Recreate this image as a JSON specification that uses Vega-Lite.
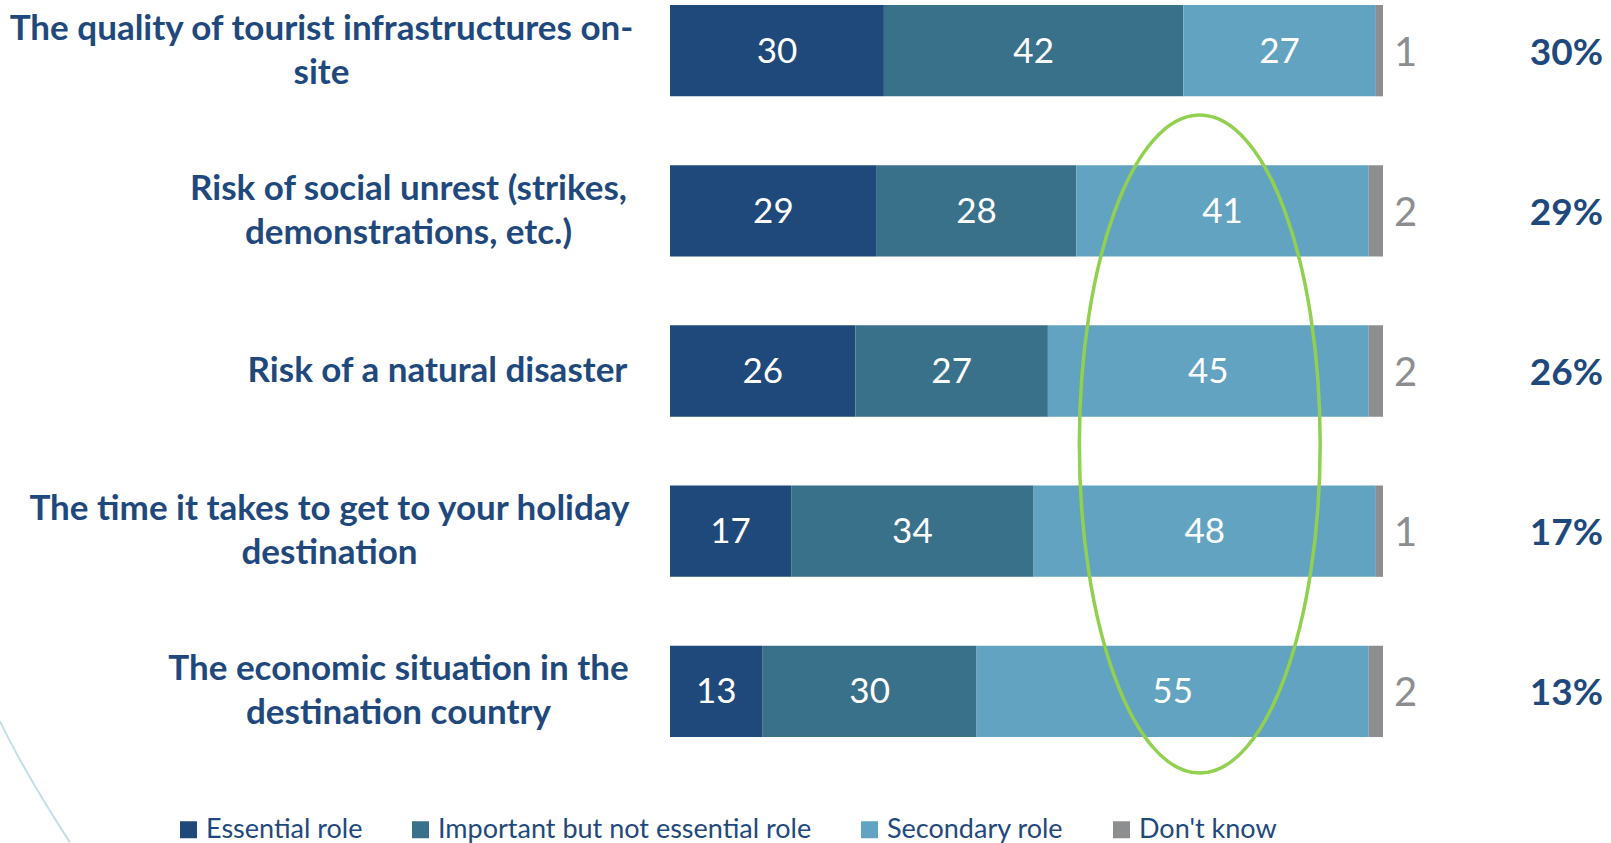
{
  "$schema": "https://vega.github.io/schema/vega-lite/v6.json",
  "width": 713,
  "height": 732,
  "autosize": "none",
  "padding": {"left": 670, "top": 5, "right": 228, "bottom": 106},
  "background": "white",
  "config": {"view": {"stroke": null}, "font": "Lato"},
  "data": {
    "values": [
      {"item": "The quality of tourist infrastructures on-|site", "cat": "Essential role", "value": 30, "order": 1},
      {"item": "The quality of tourist infrastructures on-|site", "cat": "Important but not essential role", "value": 42, "order": 2},
      {"item": "The quality of tourist infrastructures on-|site", "cat": "Secondary role", "value": 27, "order": 3},
      {"item": "The quality of tourist infrastructures on-|site", "cat": "Don't know", "value": 1, "order": 4},
      {"item": "Risk of social unrest (strikes,|demonstrations, etc.)", "cat": "Essential role", "value": 29, "order": 1},
      {"item": "Risk of social unrest (strikes,|demonstrations, etc.)", "cat": "Important but not essential role", "value": 28, "order": 2},
      {"item": "Risk of social unrest (strikes,|demonstrations, etc.)", "cat": "Secondary role", "value": 41, "order": 3},
      {"item": "Risk of social unrest (strikes,|demonstrations, etc.)", "cat": "Don't know", "value": 2, "order": 4},
      {"item": "Risk of a natural disaster", "cat": "Essential role", "value": 26, "order": 1},
      {"item": "Risk of a natural disaster", "cat": "Important but not essential role", "value": 27, "order": 2},
      {"item": "Risk of a natural disaster", "cat": "Secondary role", "value": 45, "order": 3},
      {"item": "Risk of a natural disaster", "cat": "Don't know", "value": 2, "order": 4},
      {"item": "The time it takes to get to your holiday|destination", "cat": "Essential role", "value": 17, "order": 1},
      {"item": "The time it takes to get to your holiday|destination", "cat": "Important but not essential role", "value": 34, "order": 2},
      {"item": "The time it takes to get to your holiday|destination", "cat": "Secondary role", "value": 48, "order": 3},
      {"item": "The time it takes to get to your holiday|destination", "cat": "Don't know", "value": 1, "order": 4},
      {"item": "The economic situation in the|destination country", "cat": "Essential role", "value": 13, "order": 1},
      {"item": "The economic situation in the|destination country", "cat": "Important but not essential role", "value": 30, "order": 2},
      {"item": "The economic situation in the|destination country", "cat": "Secondary role", "value": 55, "order": 3},
      {"item": "The economic situation in the|destination country", "cat": "Don't know", "value": 2, "order": 4}
    ]
  },
  "encoding": {
    "y": {
      "field": "item",
      "type": "nominal",
      "sort": null,
      "scale": {"paddingInner": 0.43, "paddingOuter": 0},
      "axis": {
        "title": null,
        "domain": false,
        "ticks": false,
        "labelExpr": "split(datum.label, '|')",
        "labelFont": "Lato",
        "labelFontWeight": "bold",
        "labelFontSize": 35,
        "labelLineHeight": 44,
        "labelColor": "#1F497D",
        "labelLimit": 800,
        "labelAlign": "center",
        "labelBaseline": "middle",
        "labelOffset": {
          "condition": {"test": "indexof(datum.value, '|') >= 0", "value": -22},
          "value": 0
        },
        "labelPadding": {
          "condition": [
            {"test": "indexof(datum.value, 'quality') >= 0", "value": 349},
            {"test": "indexof(datum.value, 'unrest') >= 0", "value": 262},
            {"test": "indexof(datum.value, 'holiday') >= 0", "value": 341},
            {"test": "indexof(datum.value, 'economic') >= 0", "value": 272}
          ],
          "value": 233
        }
      }
    }
  },
  "layer": [
    {
      "transform": [
        {"stack": "value", "groupby": ["item"], "sort": [{"field": "order"}], "as": ["x0", "x1"]}
      ],
      "mark": {"type": "bar"},
      "encoding": {
        "x": {"field": "x0", "type": "quantitative", "scale": {"domain": [0, 100], "nice": false, "zero": true}, "axis": null},
        "x2": {"field": "x1"},
        "color": {
          "field": "cat",
          "type": "nominal",
          "scale": {
            "domain": ["Essential role", "Important but not essential role", "Secondary role", "Don't know"],
            "range": ["#1F497A", "#3A718A", "#62A3C2", "#8C8E90"]
          },
          "legend": {
            "title": null,
            "orient": "none",
            "legendX": -495,
            "legendY": 811,
            "direction": "horizontal",
            "symbolType": "square",
            "symbolSize": 289,
            "symbolStrokeWidth": 0,
            "symbolOpacity": 1,
            "labelFont": "Lato",
            "labelFontSize": 27,
            "labelColor": "#1F497D",
            "labelOffset": 4,
            "columnPadding": 44,
            "labelLimit": 600
          }
        }
      }
    },
    {
      "transform": [
        {"stack": "value", "groupby": ["item"], "sort": [{"field": "order"}], "as": ["x0", "x1"]},
        {"calculate": "(datum.x0 + datum.x1) / 2", "as": "mid"},
        {"filter": "datum.cat != \"Don't know\""}
      ],
      "mark": {"type": "text", "color": "white", "fontSize": 35, "font": "Lato", "baseline": "middle", "align": "center", "dy": 1},
      "encoding": {
        "x": {"field": "mid", "type": "quantitative"},
        "text": {"field": "value", "type": "quantitative"}
      }
    },
    {
      "transform": [
        {"filter": "datum.cat == \"Don't know\""}
      ],
      "mark": {"type": "text", "color": "#8C8E90", "fontSize": 40, "font": "Lato", "baseline": "middle", "align": "left", "dx": 11, "dy": 3},
      "encoding": {
        "x": {"datum": 100},
        "text": {"field": "value", "type": "quantitative"}
      }
    },
    {
      "transform": [
        {"filter": "datum.cat == 'Essential role'"},
        {"calculate": "datum.value + '%'", "as": "pct"}
      ],
      "mark": {"type": "text", "color": "#1F497D", "fontSize": 37, "fontWeight": "bold", "font": "Lato", "baseline": "middle", "align": "right", "dx": 220, "dy": 3},
      "encoding": {
        "x": {"datum": 100},
        "text": {"field": "pct", "type": "nominal"}
      }
    },
    {
      "data": {"values": [{"item": "Risk of a natural disaster", "center": 74.3}]},
      "mark": {
        "type": "point",
        "shape": "M -0.366,0 A 0.366,1 0 1,0 0.366,0 A 0.366,1 0 1,0 -0.366,0 Z",
        "size": 432964,
        "filled": false,
        "stroke": "#92D050",
        "strokeWidth": 3.5,
        "opacity": 1,
        "yOffset": 73
      },
      "encoding": {
        "x": {"field": "center", "type": "quantitative"}
      }
    },
    {
      "data": {"values": [{"item": "The economic situation in the|destination country", "center": 0}]},
      "mark": {
        "type": "point",
        "shape": "M -5.537,0.248 Q -5.332,0.674 -4.959,1.248",
        "size": 58564,
        "filled": false,
        "stroke": "#C3DFEA",
        "strokeWidth": 2,
        "opacity": 1
      },
      "encoding": {
        "x": {"field": "center", "type": "quantitative"}
      }
    }
  ]
}
